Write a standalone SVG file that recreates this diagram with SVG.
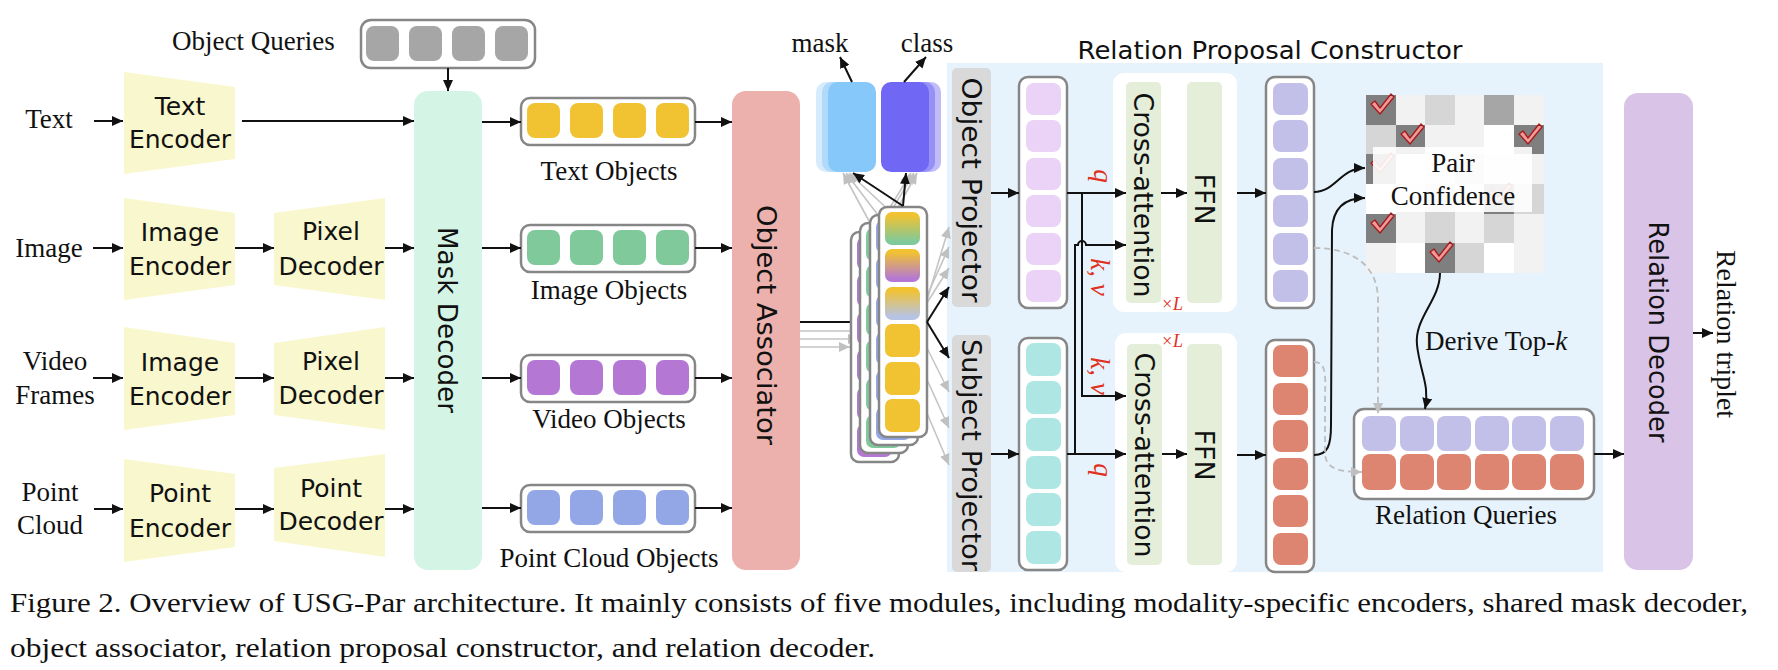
<svg xmlns="http://www.w3.org/2000/svg" width="1778" height="670" viewBox="0 0 1778 670">
<style>
.ln{stroke:#111;stroke-width:2;fill:none}
.ar{marker-end:url(#ah)}
.gl{stroke:#c4c4c4;stroke-width:1.6;fill:none;marker-end:url(#ahg)}
.dsh{stroke:#bdbdbd;stroke-width:1.8;fill:none;stroke-dasharray:6 4;marker-end:url(#ahg)}
.bx{fill:#fff;stroke:#868686;stroke-width:2.5}
.sf{font-family:'Liberation Serif',serif;font-size:27px;fill:#111}
.cm{font-family:'DejaVu Sans',sans-serif;font-size:25px;fill:#111}
.rt{font-family:'DejaVu Sans',sans-serif;font-size:27px;fill:#111}
.enc{fill:#f9f7cd}
.y{fill:#f1c232}.g{fill:#7fc99b}.p{fill:#b478d4}.b{fill:#93a7e6}
.pk{fill:#ebd3f8}.tl{fill:#ade6e2}.lv{fill:#c2bfe9}.sm{fill:#dd8571}
.red{font-family:'Liberation Serif',serif;font-style:italic;fill:#e0301e}
.D{fill:#7f7f7f}.L{fill:#f2f2f2}.M{fill:#d6d6d6}.G{fill:#a6a6a6}.W{fill:#ffffff}
</style>
<defs>
<marker id="ah" markerUnits="userSpaceOnUse" markerWidth="11" markerHeight="10" refX="11" refY="5" orient="auto"><path d="M0,0 L11,5 L0,10 z" fill="#111"/></marker>
<marker id="ahg" markerUnits="userSpaceOnUse" markerWidth="11" markerHeight="10" refX="11" refY="5" orient="auto"><path d="M0,0 L11,5 L0,10 z" fill="#c0c0c0"/></marker>
<linearGradient id="gyg" x1="0" y1="0" x2="0" y2="1"><stop offset="0.1" stop-color="#f1c232"/><stop offset="0.9" stop-color="#7fc99b"/></linearGradient>
<linearGradient id="gyp" x1="0" y1="0" x2="0" y2="1"><stop offset="0.1" stop-color="#f1c232"/><stop offset="0.9" stop-color="#b478d4"/></linearGradient>
<linearGradient id="gyb" x1="0" y1="0" x2="0" y2="1"><stop offset="0.1" stop-color="#f1c232"/><stop offset="0.9" stop-color="#b6c3e4"/></linearGradient>
<path id="chk" d="M5,9 L9,6 L14,13 L25,-1 L28,2 L14,19 Z" fill="#f19a9a" stroke="#a11d1d" stroke-width="1.3" stroke-linejoin="round"/>
</defs>
<rect width="1778" height="670" fill="#fff"/>

<g id="inputs" class="sf" text-anchor="middle">
<text x="49" y="128">Text</text>
<text x="49" y="257">Image</text>
<text x="55" y="370">Video</text>
<text x="55" y="404">Frames</text>
<text x="50" y="501">Point</text>
<text x="50" y="534">Cloud</text>
</g>

<g id="object-queries">
<text class="sf" x="172" y="50">Object Queries</text>
<rect class="bx" x="361" y="20" width="174" height="48" rx="10"/>
<rect class="G" x="366" y="26" width="33" height="35" rx="8"/>
<rect class="G" x="409" y="26" width="33" height="35" rx="8"/>
<rect class="G" x="452" y="26" width="33" height="35" rx="8"/>
<rect class="G" x="495" y="26" width="33" height="35" rx="8"/>
</g>

<g id="text-encoder">
<polygon class="enc" points="124,72 235,87 235,159 124,174"/>
<text class="cm" x="180" y="115" text-anchor="middle">Text</text>
<text class="cm" x="180" y="148" text-anchor="middle">Encoder</text>
</g>
<g id="image-encoder">
<polygon class="enc" points="124,198 235,213 235,285 124,300"/>
<text class="cm" x="180" y="241" text-anchor="middle">Image</text>
<text class="cm" x="180" y="275" text-anchor="middle">Encoder</text>
</g>
<g id="pixel-decoder">
<polygon class="enc" points="274,213 385,198 385,300 274,285"/>
<text class="cm" x="331" y="240" text-anchor="middle">Pixel</text>
<text class="cm" x="331" y="275" text-anchor="middle">Decoder</text>
</g>
<g id="video-image-encoder">
<polygon class="enc" points="124,327 235,343 235,415 124,430"/>
<text class="cm" x="180" y="371" text-anchor="middle">Image</text>
<text class="cm" x="180" y="405" text-anchor="middle">Encoder</text>
</g>
<g id="video-pixel-decoder">
<polygon class="enc" points="274,343 385,327 385,430 274,415"/>
<text class="cm" x="331" y="370" text-anchor="middle">Pixel</text>
<text class="cm" x="331" y="404" text-anchor="middle">Decoder</text>
</g>
<g id="point-encoder">
<polygon class="enc" points="124,459 235,474 235,547 124,562"/>
<text class="cm" x="180" y="502" text-anchor="middle">Point</text>
<text class="cm" x="180" y="537" text-anchor="middle">Encoder</text>
</g>
<g id="point-decoder">
<polygon class="enc" points="274,468 385,454 385,557 274,541"/>
<text class="cm" x="331" y="497" text-anchor="middle">Point</text>
<text class="cm" x="331" y="530" text-anchor="middle">Decoder</text>
</g>

<g id="mask-decoder">
<rect x="414" y="91" width="68" height="479" rx="14" fill="#d4f5e6"/>
<text class="rt" transform="translate(448,320) rotate(90)" text-anchor="middle" dy="0.36em" textLength="186" lengthAdjust="spacingAndGlyphs">Mask Decoder</text>
</g>

<g id="text-objects">
<rect class="bx" x="521" y="98" width="174" height="47" rx="9"/>
<rect class="y" x="527" y="103" width="33" height="35" rx="8"/><rect class="y" x="570" y="103" width="33" height="35" rx="8"/><rect class="y" x="613" y="103" width="33" height="35" rx="8"/><rect class="y" x="656" y="103" width="33" height="35" rx="8"/>
<text class="sf" x="609" y="180" text-anchor="middle">Text Objects</text>
</g>
<g id="image-objects">
<rect class="bx" x="521" y="225" width="174" height="47" rx="9"/>
<rect class="g" x="527" y="230" width="33" height="35" rx="8"/><rect class="g" x="570" y="230" width="33" height="35" rx="8"/><rect class="g" x="613" y="230" width="33" height="35" rx="8"/><rect class="g" x="656" y="230" width="33" height="35" rx="8"/>
<text class="sf" x="609" y="299" text-anchor="middle">Image Objects</text>
</g>
<g id="video-objects">
<rect class="bx" x="521" y="355" width="174" height="47" rx="9"/>
<rect class="p" x="527" y="360" width="33" height="35" rx="8"/><rect class="p" x="570" y="360" width="33" height="35" rx="8"/><rect class="p" x="613" y="360" width="33" height="35" rx="8"/><rect class="p" x="656" y="360" width="33" height="35" rx="8"/>
<text class="sf" x="609" y="428" text-anchor="middle">Video Objects</text>
</g>
<g id="point-cloud-objects">
<rect class="bx" x="521" y="485" width="174" height="47" rx="9"/>
<rect class="b" x="527" y="490" width="33" height="35" rx="8"/><rect class="b" x="570" y="490" width="33" height="35" rx="8"/><rect class="b" x="613" y="490" width="33" height="35" rx="8"/><rect class="b" x="656" y="490" width="33" height="35" rx="8"/>
<text class="sf" x="609" y="567" text-anchor="middle">Point Cloud Objects</text>
</g>

<g id="object-associator">
<rect x="732" y="91" width="68" height="479" rx="14" fill="#edb1ad"/>
<text class="rt" transform="translate(767,325) rotate(90)" text-anchor="middle" dy="0.36em" textLength="240" lengthAdjust="spacingAndGlyphs">Object Associator</text>
</g>

<g id="mask-head">
<rect x="816" y="82" width="48" height="90" rx="10" fill="#d6ecfd"/>
<rect x="822" y="82" width="48" height="90" rx="10" fill="#b0d9fc"/>
<rect x="828" y="82" width="48" height="90" rx="10" fill="#87c8fa"/>
<text class="sf" x="820" y="52" text-anchor="middle">mask</text>
</g>
<g id="class-head">
<rect x="893" y="82" width="48" height="90" rx="10" fill="#c0bcfa"/>
<rect x="887" y="82" width="48" height="90" rx="10" fill="#9690f7"/>
<rect x="881" y="82" width="48" height="90" rx="10" fill="#7068f5"/>
<text class="sf" x="927" y="52" text-anchor="middle">class</text>
</g>

<g id="relation-proposal-constructor">
<rect x="947" y="63" width="656" height="509" fill="#e6f3fc"/>
<text class="cm" x="1270" y="59" text-anchor="middle" textLength="385" lengthAdjust="spacingAndGlyphs">Relation Proposal Constructor</text>
</g>

<g id="connectors">
<path class="ln ar" d="M94,121 H123"/>
<path class="ln ar" d="M242,121 H414"/>
<path class="ln ar" d="M93,248 H123"/>
<path class="ln ar" d="M235,248 H274"/>
<path class="ln ar" d="M385,248 H414"/>
<path class="ln ar" d="M93,378 H123"/>
<path class="ln ar" d="M235,378 H274"/>
<path class="ln ar" d="M385,378 H414"/>
<path class="ln ar" d="M94,509 H123"/>
<path class="ln ar" d="M235,509 H274"/>
<path class="ln ar" d="M385,509 H414"/>
<path class="ln ar" d="M448,68 V91"/>
<path class="ln ar" d="M482,122 H521"/>
<path class="ln ar" d="M695,122 H732"/>
<path class="ln ar" d="M482,248 H521"/>
<path class="ln ar" d="M695,248 H732"/>
<path class="ln ar" d="M482,378 H521"/>
<path class="ln ar" d="M695,378 H732"/>
<path class="ln ar" d="M482,508 H521"/>
<path class="ln ar" d="M695,508 H732"/>
<path class="gl" d="M800,347 H850"/>
<path class="gl" d="M800,339 H859"/>
<path class="gl" d="M800,331 H868"/>
<path class="ln ar" d="M800,322 H879"/>
<path class="gl" d="M875,232 L843,173"/>
<path class="gl" d="M884,223 L846,173"/>
<path class="gl" d="M894,215 L849,173"/>
<path class="gl" d="M875,232 L911,173"/>
<path class="gl" d="M884,223 L914,173"/>
<path class="gl" d="M894,215 L917,173"/>
<path class="gl" d="M918,330 L949,227"/>
<path class="gl" d="M908,338 L949,247"/>
<path class="gl" d="M899,347 L949,268"/>
<path class="gl" d="M918,330 L949,392"/>
<path class="gl" d="M908,338 L949,428"/>
<path class="gl" d="M899,347 L949,465"/>
</g>

<g id="object-stack">
<rect class="bx" x="851" y="232" width="48" height="230" rx="8"/>
<rect class="p" x="857" y="237" width="35" height="33" rx="7"/><rect class="p" x="857" y="274" width="35" height="33" rx="7"/><rect class="p" x="857" y="312" width="35" height="33" rx="7"/><rect class="p" x="857" y="349" width="35" height="33" rx="7"/><rect class="p" x="857" y="387" width="35" height="33" rx="7"/><rect class="p" x="857" y="424" width="35" height="33" rx="7"/>
<rect class="bx" x="860" y="223" width="48" height="230" rx="8"/>
<rect class="g" x="866" y="228" width="35" height="33" rx="7"/><rect class="g" x="866" y="265" width="35" height="33" rx="7"/><rect class="g" x="866" y="303" width="35" height="33" rx="7"/><rect class="g" x="866" y="340" width="35" height="33" rx="7"/><rect class="g" x="866" y="378" width="35" height="33" rx="7"/><rect class="g" x="866" y="415" width="35" height="33" rx="7"/>
<rect class="bx" x="870" y="215" width="48" height="230" rx="8"/>
<rect class="b" x="876" y="220" width="35" height="33" rx="7"/><rect class="b" x="876" y="257" width="35" height="33" rx="7"/><rect class="b" x="876" y="295" width="35" height="33" rx="7"/><rect class="b" x="876" y="332" width="35" height="33" rx="7"/><rect class="b" x="876" y="370" width="35" height="33" rx="7"/><rect class="b" x="876" y="407" width="35" height="33" rx="7"/>
<rect class="bx" x="879" y="207" width="48" height="230" rx="8"/>
<rect fill="url(#gyg)" x="885" y="212" width="35" height="33" rx="7"/>
<rect fill="url(#gyp)" x="885" y="249" width="35" height="33" rx="7"/>
<rect fill="url(#gyb)" x="885" y="287" width="35" height="33" rx="7"/>
<rect class="y" x="885" y="324" width="35" height="33" rx="7"/>
<rect class="y" x="885" y="362" width="35" height="33" rx="7"/>
<rect class="y" x="885" y="399" width="35" height="33" rx="7"/>
</g>

<g id="object-projector">
<rect x="952" y="68" width="39" height="239" rx="5" fill="#d9d9d9"/>
<text class="rt" transform="translate(972,190) rotate(90)" text-anchor="middle" dy="0.36em" textLength="225" lengthAdjust="spacingAndGlyphs">Object Projector</text>
</g>
<g id="subject-projector">
<rect x="952" y="335" width="39" height="237" rx="5" fill="#d9d9d9"/>
<text class="rt" transform="translate(972,455) rotate(90)" text-anchor="middle" dy="0.36em" textLength="232" lengthAdjust="spacingAndGlyphs">Subject Projector</text>
</g>

<g id="object-column">
<rect class="bx" x="1019" y="77" width="48" height="231" rx="9"/>
<rect class="pk" x="1026" y="83" width="35" height="32" rx="8"/><rect class="pk" x="1026" y="120" width="35" height="32" rx="8"/><rect class="pk" x="1026" y="158" width="35" height="32" rx="8"/><rect class="pk" x="1026" y="195" width="35" height="32" rx="8"/><rect class="pk" x="1026" y="233" width="35" height="32" rx="8"/><rect class="pk" x="1026" y="270" width="35" height="32" rx="8"/>
</g>
<g id="subject-column">
<rect class="bx" x="1019" y="338" width="48" height="232" rx="9"/>
<rect class="tl" x="1026" y="343" width="35" height="33" rx="8"/><rect class="tl" x="1026" y="381" width="35" height="33" rx="8"/><rect class="tl" x="1026" y="418" width="35" height="33" rx="8"/><rect class="tl" x="1026" y="456" width="35" height="33" rx="8"/><rect class="tl" x="1026" y="493" width="35" height="33" rx="8"/><rect class="tl" x="1026" y="531" width="35" height="33" rx="8"/>
</g>

<g id="object-decoder-layer">
<rect x="1113" y="73" width="124" height="239" rx="11" fill="#fff"/>
<rect x="1126" y="82" width="35" height="221" rx="5" fill="#e4eed9"/>
<rect x="1187" y="82" width="35" height="221" rx="5" fill="#e4eed9"/>
<text class="rt" transform="translate(1144,195) rotate(90)" text-anchor="middle" dy="0.36em" textLength="205" lengthAdjust="spacingAndGlyphs">Cross-attention</text>
<text class="rt" transform="translate(1205,199) rotate(90)" text-anchor="middle" dy="0.36em">FFN</text>
<text class="red" x="1172" y="310" font-size="18" text-anchor="middle">×L</text>
</g>
<g id="subject-decoder-layer">
<rect x="1115" y="333" width="122" height="239" rx="11" fill="#fff"/>
<rect x="1127" y="344" width="35" height="221" rx="5" fill="#e4eed9"/>
<rect x="1187" y="344" width="35" height="221" rx="5" fill="#e4eed9"/>
<text class="rt" transform="translate(1145,455) rotate(90)" text-anchor="middle" dy="0.36em" textLength="205" lengthAdjust="spacingAndGlyphs">Cross-attention</text>
<text class="rt" transform="translate(1205,455) rotate(90)" text-anchor="middle" dy="0.36em">FFN</text>
<text class="red" x="1172" y="347" font-size="18" text-anchor="middle">×L</text>
</g>

<g id="object-output">
<rect class="bx" x="1266" y="77" width="48" height="231" rx="9"/>
<rect class="lv" x="1273" y="83" width="35" height="32" rx="8"/><rect class="lv" x="1273" y="120" width="35" height="32" rx="8"/><rect class="lv" x="1273" y="158" width="35" height="32" rx="8"/><rect class="lv" x="1273" y="195" width="35" height="32" rx="8"/><rect class="lv" x="1273" y="233" width="35" height="32" rx="8"/><rect class="lv" x="1273" y="270" width="35" height="32" rx="8"/>
</g>
<g id="subject-output">
<rect class="bx" x="1266" y="340" width="48" height="232" rx="9"/>
<rect class="sm" x="1273" y="345" width="35" height="32" rx="8"/><rect class="sm" x="1273" y="383" width="35" height="32" rx="8"/><rect class="sm" x="1273" y="420" width="35" height="32" rx="8"/><rect class="sm" x="1273" y="458" width="35" height="32" rx="8"/><rect class="sm" x="1273" y="495" width="35" height="32" rx="8"/><rect class="sm" x="1273" y="533" width="35" height="32" rx="8"/>
</g>

<g id="pair-confidence">
<rect class="D" x="1366" y="95" width="30" height="30"/><rect class="L" x="1396" y="95" width="30" height="30"/><rect class="M" x="1425" y="95" width="30" height="30"/><rect class="L" x="1455" y="95" width="30" height="30"/><rect class="G" x="1484" y="95" width="30" height="30"/><rect class="L" x="1514" y="95" width="30" height="30"/>
<rect class="M" x="1366" y="125" width="30" height="30"/><rect class="D" x="1396" y="125" width="30" height="30"/><rect class="L" x="1425" y="125" width="30" height="30"/><rect class="L" x="1455" y="125" width="30" height="30"/><rect class="W" x="1484" y="125" width="30" height="30"/><rect class="D" x="1514" y="125" width="30" height="30"/>
<rect class="D" x="1366" y="154" width="30" height="30"/><rect class="W" x="1396" y="154" width="30" height="30"/><rect class="L" x="1425" y="154" width="30" height="30"/><rect class="M" x="1455" y="154" width="30" height="30"/><rect class="L" x="1484" y="154" width="30" height="30"/><rect class="L" x="1514" y="154" width="30" height="30"/>
<rect class="W" x="1366" y="184" width="30" height="30"/><rect class="L" x="1396" y="184" width="30" height="30"/><rect class="M" x="1425" y="184" width="30" height="30"/><rect class="L" x="1455" y="184" width="30" height="30"/><rect class="D" x="1484" y="184" width="30" height="30"/><rect class="M" x="1514" y="184" width="30" height="30"/>
<rect class="D" x="1366" y="214" width="30" height="30"/><rect class="L" x="1396" y="214" width="30" height="30"/><rect class="M" x="1425" y="214" width="30" height="30"/><rect class="L" x="1455" y="214" width="30" height="30"/><rect class="M" x="1484" y="214" width="30" height="30"/><rect class="L" x="1514" y="214" width="30" height="30"/>
<rect class="L" x="1366" y="243" width="30" height="30"/><rect class="W" x="1396" y="243" width="30" height="30"/><rect class="D" x="1425" y="243" width="30" height="30"/><rect class="M" x="1455" y="243" width="30" height="30"/><rect class="W" x="1484" y="243" width="30" height="30"/><rect class="L" x="1514" y="243" width="30" height="30"/>
<use href="#chk" x="1366" y="95"/><use href="#chk" x="1396" y="125"/><use href="#chk" x="1514" y="125"/><use href="#chk" x="1366" y="214"/><use href="#chk" x="1425" y="243"/>
<use href="#chk" x="1366" y="154"/><use href="#chk" x="1484" y="184"/>
<rect x="1373" y="147" width="159" height="65" fill="#fff" opacity="0.9"/>
<text class="sf" x="1453" y="172" text-anchor="middle">Pair</text>
<text class="sf" x="1453" y="205" text-anchor="middle">Confidence</text>
</g>

<g id="relation-queries">
<rect class="bx" x="1354" y="409" width="240" height="90" rx="10"/>
<rect class="lv" x="1362" y="416" width="34" height="35" rx="8"/><rect class="lv" x="1400" y="416" width="34" height="35" rx="8"/><rect class="lv" x="1437" y="416" width="34" height="35" rx="8"/><rect class="lv" x="1475" y="416" width="34" height="35" rx="8"/><rect class="lv" x="1512" y="416" width="34" height="35" rx="8"/><rect class="lv" x="1550" y="416" width="34" height="35" rx="8"/>
<rect class="sm" x="1362" y="454" width="34" height="36" rx="8"/><rect class="sm" x="1400" y="454" width="34" height="36" rx="8"/><rect class="sm" x="1437" y="454" width="34" height="36" rx="8"/><rect class="sm" x="1475" y="454" width="34" height="36" rx="8"/><rect class="sm" x="1512" y="454" width="34" height="36" rx="8"/><rect class="sm" x="1550" y="454" width="34" height="36" rx="8"/>
<text class="sf" x="1466" y="524" text-anchor="middle">Relation Queries</text>
</g>

<g id="relation-decoder">
<rect x="1624" y="93" width="69" height="477" rx="14" fill="#d9c3e7"/>
<text class="rt" transform="translate(1659,332) rotate(90)" text-anchor="middle" dy="0.36em" textLength="221" lengthAdjust="spacingAndGlyphs">Relation Decoder</text>
</g>
<g id="relation-triplet">
<text class="sf" transform="translate(1726,334) rotate(90)" text-anchor="middle" dy="0.33em" textLength="168" lengthAdjust="spacingAndGlyphs">Relation triplet</text>
</g>

<g id="connectors-2">
<path class="ln ar" d="M852,82 L840,57"/>
<path class="ln ar" d="M904,82 L926,57"/>
<path class="ln ar" d="M903,206 L853,173"/>
<path class="ln ar" d="M903,206 L906,173"/>
<path class="ln ar" d="M927,322 L949,287"/>
<path class="ln ar" d="M927,322 L949,358"/>
<path class="ln ar" d="M991,193 H1019"/>
<path class="ln ar" d="M991,454 H1019"/>
<path class="ln ar" d="M1067,193 H1126"/>
<path class="ln ar" d="M1082,193 V396 H1126"/>
<path class="ln ar" d="M1067,454 H1126"/>
<path class="ln ar" d="M1075,454 V245 H1078 A4,4 0 0 1 1086,245 H1126"/>
<path class="ln ar" d="M1161,193 H1187"/>
<path class="ln ar" d="M1162,454 H1187"/>
<path class="ln ar" d="M1237,193 H1266"/>
<path class="ln ar" d="M1237,455 H1266"/>
<path class="ln ar" d="M1314,192 C1336,192 1340,168 1365,168"/>
<path class="ln ar" d="M1314,455 C1328,455 1331,445 1331,425 L1332,230 C1333,207 1345,198 1365,198"/>
<path class="dsh" d="M1314,248 C1356,248 1378,268 1378,300 L1378,414"/>
<path class="dsh" d="M1314,362 C1328,362 1325,380 1325,400 L1325,452 C1325,467 1335,472 1362,472"/>
<path class="ln ar" d="M1440,273 C1440,300 1414,318 1417,345 C1420,372 1430,385 1425,409"/>
<path class="ln ar" d="M1594,454 H1624"/>
<path class="ln ar" d="M1693,333 H1713"/>
<text class="red" transform="translate(1099,176) rotate(90)" font-size="27" text-anchor="middle" dy="0.2em">q</text>
<text class="red" transform="translate(1099,277) rotate(90)" font-size="27" text-anchor="middle" dy="0.3em">k, v</text>
<text class="red" transform="translate(1099,376) rotate(90)" font-size="27" text-anchor="middle" dy="0.3em">k, v</text>
<text class="red" transform="translate(1099,470) rotate(90)" font-size="27" text-anchor="middle" dy="0.2em">q</text>
<text class="sf" x="1425" y="350">Derive Top-<tspan font-style="italic">k</tspan></text>
</g>

<g id="caption" class="sf">
<text x="10" y="612" textLength="1738" lengthAdjust="spacingAndGlyphs">Figure 2. Overview of USG-Par architecture. It mainly consists of five modules, including modality-specific encoders, shared mask decoder,</text>
<text x="10" y="657" textLength="865" lengthAdjust="spacingAndGlyphs">object associator, relation proposal constructor, and relation decoder.</text>
</g>
</svg>
